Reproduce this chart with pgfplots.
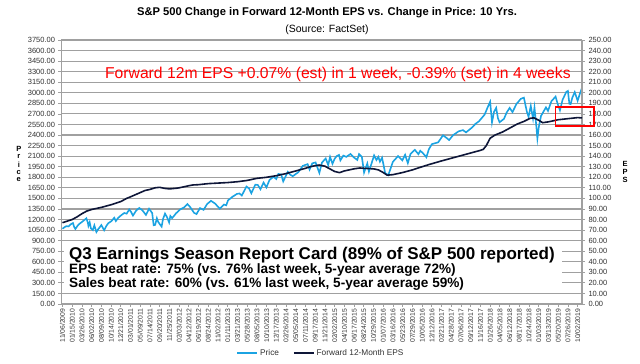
\documentclass[border=0pt]{standalone}
\usepackage{pgfplots}
\pgfplotsset{compat=1.18}
\usepackage{fontspec}
\setmainfont{Liberation Sans}
\definecolor{priceblue}{RGB}{27,163,226}
\definecolor{epsnavy}{RGB}{14,22,56}
\definecolor{gridgray}{RGB}{160,160,160}
\definecolor{ticktext}{RGB}{50,50,50}
\begin{document}
\begin{tikzpicture}[x=1pt,y=1pt]
\path[use as bounding box] (0,0) rectangle (640,364);
\node[font=\fontsize{11.2}{13}\selectfont\bfseries] at (327,351) {S\&P 500 Change in Forward 12-Month EPS vs. Change in Price: 10 Yrs.};
\node[font=\fontsize{10.5}{12}\selectfont] at (327,334) {(Source: FactSet)};
\begin{axis}[
  at={(61.5pt,60pt)}, anchor=south west,
  scale only axis, width=520.5pt, height=264pt,
  xmin=-0.1, xmax=53.45, ymin=0, ymax=3750,
  ytick distance=150,
  ymajorgrids, grid style={gridgray, line width=1.1pt},
  axis y line*=left, axis x line*=bottom,
  axis line style={gridgray, line width=1.1pt},
  tick align=outside, major tick length=3pt,
  tick style={gridgray, line width=0.8pt},
  scaled y ticks=false,
  yticklabel style={font=\fontsize{7.5}{9}\selectfont, text=ticktext, /pgf/number format/.cd, fixed, fixed zerofill, precision=2, 1000 sep={}, assume math mode=true},
  xtick={0,...,53},
  xticklabels={11/06/2009,01/15/2010,03/26/2010,06/02/2010,08/09/2010,10/14/2010,12/21/2010,03/01/2011,05/09/2011,07/14/2011,09/20/2011,11/25/2011,02/03/2012,04/12/2012,06/19/2012,08/24/2012,11/02/2012,01/11/2013,03/21/2013,05/28/2013,08/05/2013,10/10/2013,12/17/2013,02/26/2014,05/05/2014,07/11/2014,09/17/2014,11/21/2014,02/02/2015,04/10/2015,06/17/2015,08/24/2015,10/29/2015,01/07/2016,03/16/2016,05/23/2016,07/29/2016,10/05/2016,12/12/2016,02/21/2017,04/28/2017,07/06/2017,09/12/2017,11/16/2017,01/26/2018,04/05/2018,06/12/2018,08/17/2018,10/24/2018,01/03/2019,03/13/2019,05/20/2019,07/26/2019,10/02/2019},
  xticklabel style={rotate=90, anchor=east, font=\fontsize{6.8}{8}\selectfont, text=ticktext, inner sep=1.5pt},
  clip=false,
]
\addplot[priceblue, line width=1.6pt] coordinates {
(0.00,1069) (0.21,1091) (0.41,1106) (0.62,1102) (0.86,1133) (1.08,1150) (1.20,1096) (1.33,1066) (1.54,1109) (1.74,1138) (1.95,1160) (2.20,1187) (2.46,1217) (2.60,1160) (2.67,1110) (2.80,1160) (2.93,1074) (3.12,1050) (3.28,1117) (3.49,1022) (3.69,1065) (3.85,1093) (4.00,1121) (4.29,1047) (4.51,1109) (4.72,1148) (5.03,1176) (5.33,1225) (5.49,1178) (5.74,1225) (6.02,1258) (6.36,1293) (6.60,1283) (6.87,1343) (7.05,1310) (7.25,1256) (7.59,1328) (7.90,1364) (8.21,1333) (8.59,1265) (8.91,1353) (9.23,1292) (9.38,1119) (9.54,1124) (9.71,1219) (9.85,1165) (10.04,1129) (10.20,1099) (10.35,1210) (10.55,1285) (10.75,1235) (10.97,1159) (11.10,1250) (11.28,1219) (11.69,1289) (12.10,1343) (12.51,1371) (12.86,1419) (13.13,1378) (13.54,1295) (13.79,1278) (14.15,1362) (14.52,1338) (14.87,1418) (15.28,1466) (15.69,1428) (16.19,1353) (16.62,1413) (16.85,1402) (17.03,1472) (17.44,1518) (17.93,1563) (18.20,1570) (18.45,1541) (18.93,1669) (19.20,1640) (19.43,1573) (19.84,1695) (20.10,1690) (20.37,1630) (20.69,1725) (20.98,1656) (21.30,1762) (21.71,1807) (22.00,1775) (22.21,1848) (22.50,1840) (22.71,1741) (23.18,1878) (23.40,1840) (23.69,1815) (24.26,1872) (24.72,1962) (25.22,1987) (25.42,1910) (25.70,1998) (26.04,2011) (26.43,1862) (26.70,2010) (27.08,2067) (27.34,1973) (27.53,2090) (27.78,1992) (28.00,2063) (28.20,2100) (28.45,2117) (28.59,2040) (28.90,2108) (29.20,2090) (29.63,2131) (29.95,2085) (30.33,2046) (30.51,2129) (30.80,2090) (31.03,1868) (31.36,1996) (31.53,1882) (32.06,2110) (32.30,2045) (32.50,2090) (32.66,2022) (32.88,2078) (33.20,1859) (33.52,1829) (33.99,2019) (34.53,2102) (34.96,2040) (35.25,2119) (35.53,2001) (35.80,2130) (36.25,2190) (36.62,2128) (36.81,2177) (37.10,2140) (37.44,2085) (37.70,2200) (38.01,2271) (38.65,2296) (39.15,2396) (39.50,2360) (39.78,2329) (40.20,2400) (40.76,2453) (41.20,2470) (41.52,2438) (42.10,2503) (42.50,2560) (42.84,2594) (43.43,2690) (43.70,2780) (44.00,2873) (44.19,2581) (44.40,2730) (44.62,2786) (44.80,2640) (44.97,2582) (45.42,2630) (45.70,2720) (46.01,2786) (46.30,2726) (46.70,2840) (47.15,2914) (47.47,2931) (47.78,2729) (47.95,2660) (48.18,2814) (48.41,2633) (48.56,2790) (48.70,2600) (48.86,2351) (49.00,2510) (49.23,2671) (49.74,2793) (49.95,2743) (50.30,2880) (50.73,2946) (50.95,2840) (51.18,2752) (51.45,2900) (51.84,3014) (52.00,3026) (52.15,2844) (52.28,2840) (52.45,2930) (52.70,3009) (53.00,2887) (53.23,2986) (53.44,3067) (53.45,3093)
};
\fill[white] (rel axis cs:0.004,0.055) rectangle (rel axis cs:0.962,0.232);
\node[anchor=west, font=\fontsize{17}{19}\selectfont\bfseries] at (rel axis cs:0.008,0.186) {Q3 Earnings Season Report Card (89\% of S\&P 500 reported)};
\node[anchor=west, font=\fontsize{13.6}{15}\selectfont\bfseries] at (rel axis cs:0.008,0.129) {EPS beat rate: 75\% (vs. 76\% last week, 5-year average 72\%)};
\node[anchor=west, font=\fontsize{13.6}{15}\selectfont\bfseries] at (rel axis cs:0.008,0.074) {Sales beat rate: 60\% (vs. 61\% last week, 5-year average 59\%)};
\node[text=red, font=\fontsize{15.7}{18}\selectfont] at (rel axis cs:0.531,0.871) {Forward 12m EPS +0.07\% (est) in 1 week, -0.39\% (set) in 4 weeks};
\node[font=\fontsize{7.5}{8.5}\selectfont\bfseries, align=center, inner sep=0pt] at (rel axis cs:-0.082,0.53) {\shortstack{P\\r\\i\\c\\e}};
\end{axis}
\begin{axis}[
  at={(61.5pt,60pt)}, anchor=south west,
  scale only axis, width=520.5pt, height=264pt,
  xmin=-0.1, xmax=53.45, ymin=0, ymax=250,
  ytick distance=10,
  axis y line*=right, axis x line=none,
  axis line style={gridgray, line width=1.1pt},
  tick align=outside, major tick length=3pt,
  tick style={gridgray, line width=0.8pt},
  yticklabel style={font=\fontsize{7.5}{9}\selectfont, text=ticktext, /pgf/number format/.cd, fixed, fixed zerofill, precision=2, 1000 sep={}, assume math mode=true},
  clip=false,
  legend style={at={(rel axis cs:0.4985,-0.186)}, anchor=center, draw=none, fill=none, font=\fontsize{8.3}{10}\selectfont, text=ticktext, legend columns=2, /tikz/every even column/.append style={column sep=12pt}},
  legend image code/.code={\draw[#1] (0pt,0pt) -- (20pt,0pt);},
]
\addlegendimage{priceblue, line width=1.6pt}
\addlegendentry{Price}
\addplot[epsnavy, line width=1.6pt] coordinates {
(0,77) (0.5,78.5) (1,80) (1.5,82.5) (2,85.5) (2.5,88) (3,89.5) (3.5,90.5) (4,91.5) (5,94) (6,97) (6.6,100) (7,101.5) (8,105.5) (8.5,107.5) (9,108.5) (9.5,110) (10,110.5) (10.5,109.5) (11,109) (11.7,109.6) (12,110) (13,112) (13.4,112.7) (14,113) (15,114) (16,114.5) (17,115) (18,115.8) (19,117) (20,119) (21,120) (22,121.5) (23,123.5) (24,126) (25,128.5) (25.5,130) (26,131) (26.4,131.6) (27,130.5) (27.5,128) (28,125.5) (28.5,124.4) (29,126) (30,128) (30.6,128.8) (31,128.5) (32,128) (32.5,127) (33,124.5) (33.4,122) (34,122.5) (35,124.5) (36,127) (37,130) (37.8,132.3) (39,135.5) (40,138) (41.2,141) (42,143) (43,145.5) (43.3,146.5) (43.6,150) (44,157) (44.5,160) (45.3,163) (46,166.5) (46.8,170.5) (47.5,173) (48.1,175.8) (48.5,176.3) (49,174) (49.4,171.7) (50,172.5) (51,174.5) (51.5,175) (52,175.5) (53,176.5) (53.45,176.2)
};
\addlegendentry{Forward 12-Month EPS}
\draw[red, line width=1.5pt] (axis cs:50.7,168.6) rectangle (axis cs:54.7,186.6);
\node[font=\fontsize{7.5}{8.5}\selectfont\bfseries, inner sep=0pt] at (rel axis cs:1.083,0.5) {\shortstack{E\\P\\S}};
\end{axis}
\end{tikzpicture}
\end{document}
